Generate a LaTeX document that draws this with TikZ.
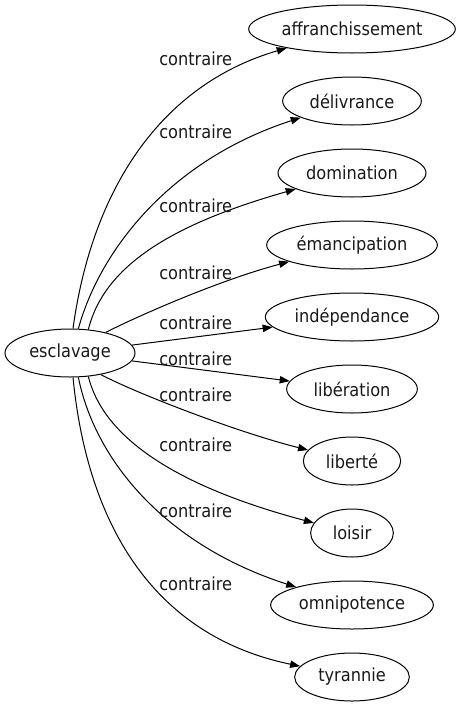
\documentclass[tikz,border=0pt]{standalone}
\usepackage{fontspec}
\setmainfont{DejaVu Sans Condensed}
\usetikzlibrary{shapes.geometric, arrows.meta}

\begin{document}
\begin{tikzpicture}[x=0.75pt, y=-0.75pt,
    word/.style={draw, ellipse, line width=0.75pt, minimum height=36pt, inner sep=0pt,
                 font=\fontsize{13.5}{16}\selectfont, text=black!90},
    rel/.style={inner sep=0pt, anchor=base west, font=\fontsize{13.5}{16}\selectfont, text=black!90},
    link/.style={-{Triangle[length=7.5pt,width=5.5pt]}, line width=0.75pt}]

    % Picture frame (same proportions as the page)
    \useasboundingbox (0,0) rectangle (460,707);

    % Source word on the left
    \node[word, minimum width=97.5pt] (esc) at (70,353) {esclavage};

    % Column of opposite words on the right
    \node[word, minimum width=155pt] (aff) at (352,29) {affranchissement};
    \node[word, minimum width=104pt] (del) at (352,101) {délivrance};
    \node[word, minimum width=111pt] (dom) at (352,173) {domination};
    \node[word, minimum width=128pt] (ema) at (352,245) {émancipation};
    \node[word, minimum width=130pt] (ind) at (352,317) {indépendance};
    \node[word, minimum width=98pt] (lib) at (352,389) {libération};
    \node[word, minimum width=73pt] (lbt) at (352,461) {liberté};
    \node[word, minimum width=62pt] (loi) at (352,533) {loisir};
    \node[word, minimum width=122pt] (omn) at (352,605) {omnipotence};
    \node[word, minimum width=86pt] (tyr) at (352,677) {tyrannie};

    % Edges fanning out from the source word
    \draw[link] (esc.83) .. controls (92,190) and (160,85) .. (aff);
    \draw[link] (esc.71) .. controls (100,250) and (170,160) .. (del);
    \draw[link] (esc.52) .. controls (105,262) and (180,222) .. (dom);
    \draw[link] (esc.30) .. controls (140,315) and (220,280) .. (ema);
    \draw[link] (esc) -- (ind);
    \draw[link] (esc) -- (lib);
    \draw[link] (esc.-35) .. controls (140,395) and (240,433) .. (lbt);
    \draw[link] (esc.-52) .. controls (105,444) and (190,490) .. (loi);
    \draw[link] (esc.-71) .. controls (95,460) and (165,545) .. (omn);
    \draw[link] (esc.-83) .. controls (87,520) and (150,635) .. (tyr);

    % Edge labels
    \node[rel] (l1) at (159,65) {contraire};
    \node[rel] (l2) at (159,138) {contraire};
    \node[rel] (l3) at (159,212) {contraire};
    \node[rel] (l4) at (159,279) {contraire};
    \node[rel] (l5) at (159,329) {contraire};
    \node[rel] (l6) at (159,365) {contraire};
    \node[rel] (l7) at (159,401) {contraire};
    \node[rel] (l8) at (159,451) {contraire};
    \node[rel] (l9) at (159,517) {contraire};
    \node[rel] (l10) at (159,590) {contraire};

\end{tikzpicture}
\end{document}
